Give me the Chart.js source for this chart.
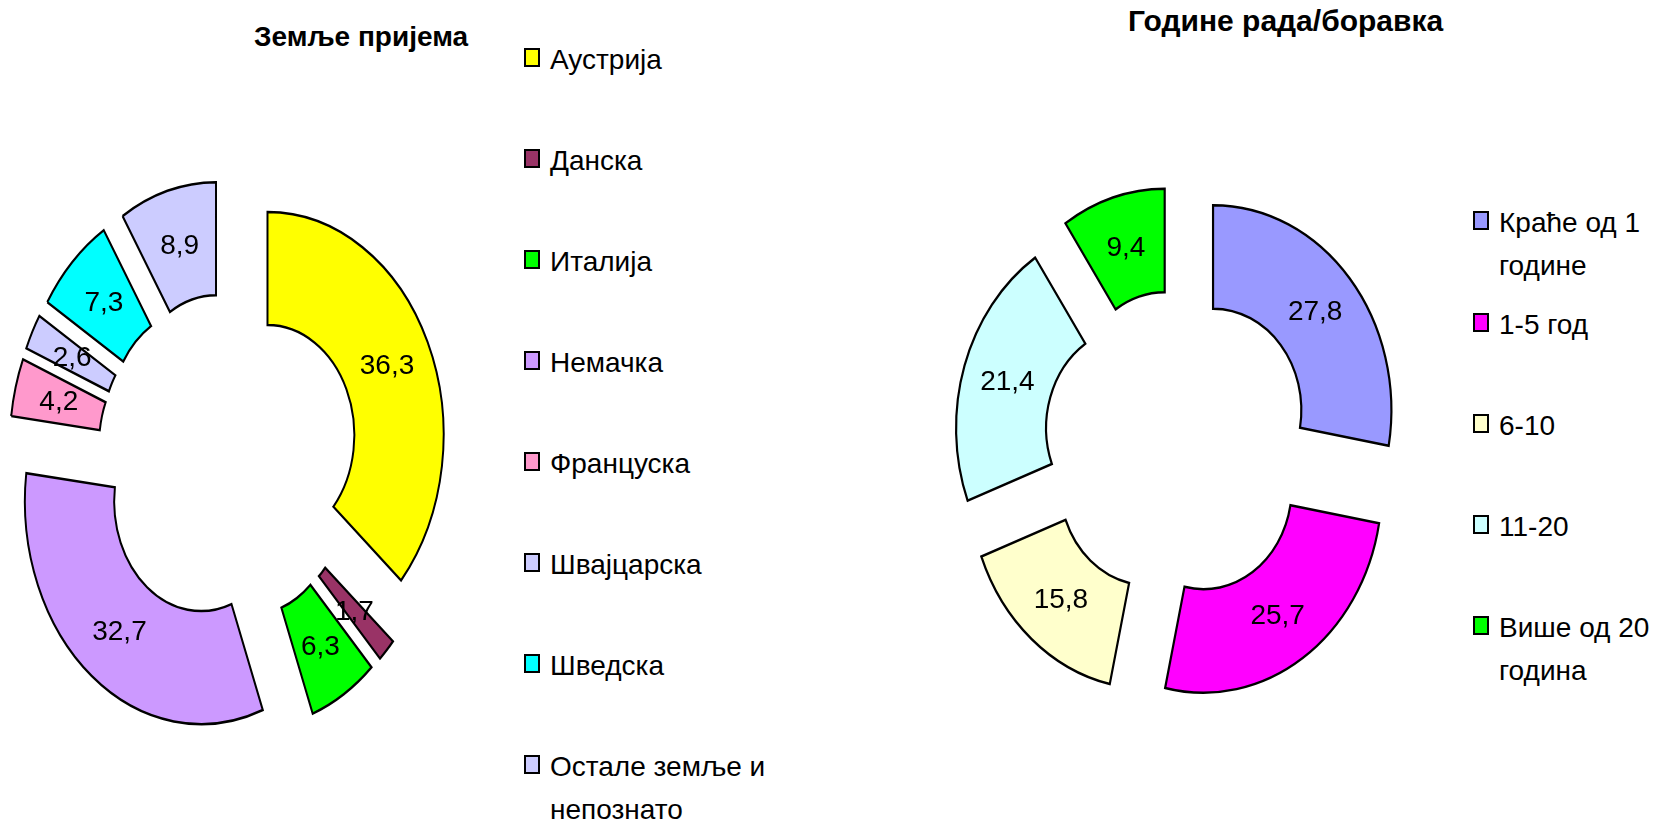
<!DOCTYPE html>
<html>
<head>
<meta charset="utf-8">
<script src="https://cdn.jsdelivr.net/npm/chart.js@4.4.1/dist/chart.umd.min.js"></script>
<style>
  body { margin: 0; background: #fff; width: 1653px; height: 822px; position: relative; overflow: hidden;
         font-family: "Liberation Sans", Arial, sans-serif; color: #000; }
  canvas { position: absolute; }
  .title { position: absolute; font-weight: bold; white-space: nowrap; line-height: 1; }
  .item { position: absolute; display: flex; align-items: flex-start; font-size: 28px; line-height: 43px; }
  .key { width: 12px; height: 15px; border: 2px solid #000; margin-top: 10px; margin-right: 10px; flex: none; }
  .txt { display: block; }
</style>
</head>
<body>
<div class="title" id="title-left" style="left:254px; top:23px; font-size:28px;">Земље пријема</div>
<div class="title" id="title-right" style="left:1128px; top:6px; font-size:30px;">Године рада/боравка</div>
<canvas id="donut-left" width="460" height="600" style="left:-2px; top:158px;"></canvas>
<canvas id="donut-right" width="480" height="580" style="left:938px; top:154px;"></canvas>
<div id="legend-left"></div>
<div id="legend-right"></div>
<script>
// Земље пријема
const countryLabels = ['Аустрија', 'Данска', 'Италија', 'Немачка', 'Француска', 'Швајцарска', 'Шведска', 'Остале земље и непознато'];
const countryValues = [36.3, 1.7, 6.3, 32.7, 4.2, 2.6, 7.3, 8.9];
const countryColors = ['#FFFF00', '#993366', '#00FF00', '#CC99FF', '#FF99CC', '#CCCCFF', '#00FFFF', '#CCCCFF'];

// Године рада/боравка
const yearLabels = ['Краће од 1 године', '1-5 год', '6-10', '11-20', 'Више од 20 година'];
const yearValues = [27.8, 25.7, 15.8, 21.4, 9.4];
const yearColors = ['#9999FF', '#FF00FF', '#FFFFCC', '#CCFFFF', '#00FF00'];

// pulls slices apart and squeezes the ring horizontally like the original picture
const explodeStretch = {
    id: 'explodeStretch',
    afterDatasetsUpdate(chart, args, opts) {
        chart.getDatasetMeta(0).data.forEach(arc => {
            const mid = (arc.startAngle + arc.endAngle) / 2;
            arc.x += Math.cos(mid) * opts.explode;
            arc.y += Math.sin(mid) * opts.explode;
        });
    },
    beforeDatasetsDraw(chart, args, opts) {
        const { ctx, chartArea } = chart;
        const cx = (chartArea.left + chartArea.right) / 2;
        ctx.save();
        ctx.translate(cx, 0);
        ctx.scale(opts.stretch, 1);
        ctx.translate(-cx, 0);
    },
    afterDatasetsDraw(chart, args, opts) {
        const { ctx, chartArea } = chart;
        ctx.restore();
        const cx = (chartArea.left + chartArea.right) / 2;
        const values = chart.data.datasets[0].data;
        ctx.save();
        ctx.font = '28px "Liberation Sans", Arial, sans-serif';
        ctx.fillStyle = '#000';
        ctx.textAlign = 'center';
        ctx.textBaseline = 'middle';
        chart.getDatasetMeta(0).data.forEach((arc, i) => {
            const mid = (arc.startAngle + arc.endAngle) / 2;
            const r = (arc.innerRadius + arc.outerRadius) / 2;
            const px = arc.x + Math.cos(mid) * r;
            const py = arc.y + Math.sin(mid) * r;
            const x = cx + (px - cx) * opts.stretch;
            ctx.fillText(values[i].toFixed(1).replace('.', ','), x, py + 1);
        });
        ctx.restore();
    }
};

const makeDonut = (id, labels, values, colors, geo) => {
    return new Chart(document.getElementById(id), {
        type: 'doughnut',
        data: {
            labels,
            datasets: [{
                data: values,
                backgroundColor: colors,
                borderColor: '#000',
                borderWidth: 2.5,
                borderJoinStyle: 'miter',
                clip: false
            }]
        },
        options: {
            responsive: false,
            animation: false,
            events: [],
            radius: geo.radius,
            cutout: geo.cutout,
            layout: { padding: 0 },
            plugins: {
                legend: { display: false },
                tooltip: { enabled: false },
                explodeStretch: { explode: geo.explode, stretch: geo.stretch }
            }
        },
        plugins: [explodeStretch]
    });
};

makeDonut('donut-left', countryLabels, countryValues, countryColors,
    { radius: 223, cutout: '49.3%', explode: 55, stretch: 0.79 });
makeDonut('donut-right', yearLabels, yearValues, yearColors,
    { radius: 205, cutout: '49.5%', explode: 52.6, stretch: 0.87 });

const buildLegend = (id, labels, colors, cfg) => {
    const box = document.getElementById(id);
    labels.forEach((label, i) => {
        const item = document.createElement('div');
        item.className = 'item';
        item.style.left = cfg.x + 'px';
        item.style.top = (cfg.y0 + i * cfg.step - 19.5) + 'px';
        const key = document.createElement('span');
        key.className = 'key';
        key.style.background = colors[i];
        const txt = document.createElement('span');
        txt.className = 'txt';
        txt.style.width = cfg.textWidth + 'px';
        txt.textContent = label;
        item.appendChild(key);
        item.appendChild(txt);
        box.appendChild(item);
    });
};

buildLegend('legend-left', countryLabels, countryColors, { x: 524, y0: 57.2, step: 101.1, textWidth: 232 });
buildLegend('legend-right', yearLabels, yearColors, { x: 1473, y0: 220.7, step: 101.3, textWidth: 156 });
</script>
</body>
</html>
